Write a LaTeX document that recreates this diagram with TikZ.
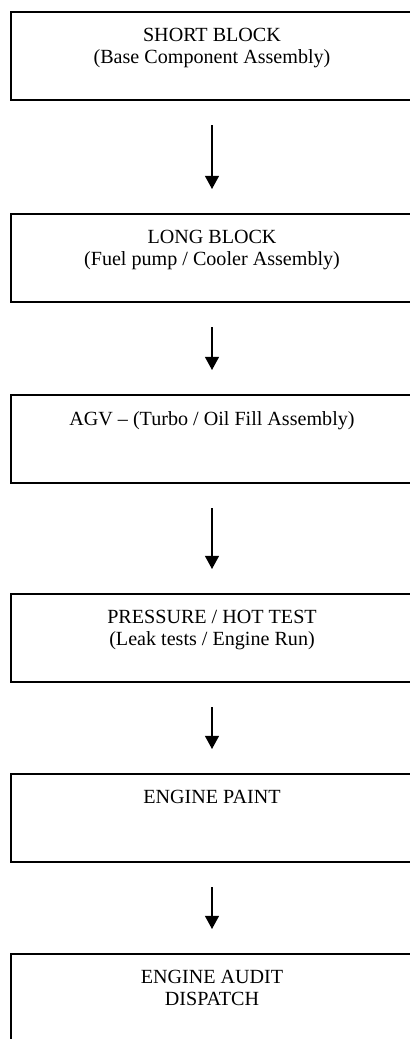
\documentclass[tikz,border=0pt]{standalone}
\usepackage{fontspec}
\setmainfont{Liberation Serif}
\usetikzlibrary{arrows.meta,positioning}

\tikzset{
  stage/.style={draw, line width=0.5mm, anchor=north, minimum width=100.5mm, minimum height=22mm, inner sep=0pt},
  caption/.style={anchor=north, align=center, inner sep=0pt, font=\fontsize{14.3}{15.6}\selectfont},
  flow/.style={-{Triangle[length=3.3mm,width=3.5mm]}, line width=0.35mm, shorten <=6mm, shorten >=6mm},
}

\begin{document}
\begin{tikzpicture}
\useasboundingbox (0,0) rectangle (10.25,-25.975);
% the stages
\node[stage] (short) at (5.3,-0.275) {};
\node[stage] (long)  at (5.3,-5.325) {};
\node[stage] (agv)   at (5.3,-9.85) {};
\node[stage] (test)  at (5.3,-14.825) {};
\node[stage] (paint) at (5.3,-19.325) {};
\node[stage] (audit) at (5.3,-23.825) {};
% their texts
\node[caption, below=4.2mm of short.north] (shorttext) {SHORT BLOCK\\(Base Component Assembly)};
\node[caption, below=4.2mm of long.north]  (longtext)  {LONG BLOCK\\(Fuel pump / Cooler Assembly)};
\node[caption, below=4.2mm of agv.north]   (agvtext)   {AGV -- (Turbo / Oil Fill Assembly)};
\node[caption, below=4.2mm of test.north]  (testtext)  {PRESSURE / HOT TEST\\(Leak tests / Engine Run)};
\node[caption, below=4.2mm of paint.north] (painttext) {ENGINE PAINT};
\node[caption, below=4.2mm of audit.north] (audittext) {ENGINE AUDIT\\DISPATCH};
% the flow
\foreach \a/\b in {short/long, long/agv, agv/test, test/paint, paint/audit}
  \draw[flow] (\a) -- (\b);
\end{tikzpicture}
\end{document}
